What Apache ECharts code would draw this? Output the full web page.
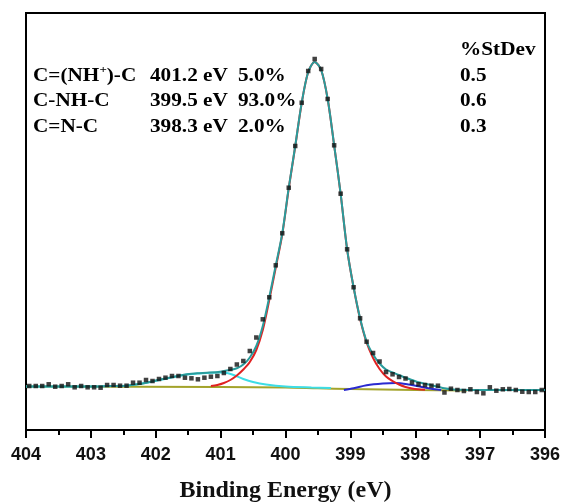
<!DOCTYPE html>
<html>
<head>
<meta charset="utf-8">
<script src="https://cdn.jsdelivr.net/npm/echarts@6/dist/echarts.min.js"></script>
<style>
  html, body { margin: 0; padding: 0; background: #fff; }
  #main { width: 561px; height: 504px; }
</style>
</head>
<body>
<div id="main"></div>
<script>
// binding energy of the measured points (eV)
var energies = [];
for (var i = 0; i < 80; i++) energies.push(+(403.95 - i * 0.1).toFixed(2));

var measured = [
  44, 44, 44, 45.7, 43.3, 44, 45.7, 42.7, 44, 42.7,
  42.7, 42.3, 45, 45, 44.3, 44.3, 47.3, 47.3, 50, 49,
  51, 52.3, 54, 54, 52.3, 51.7, 50.7, 52.3, 53.3, 54,
  57, 61, 65.5, 69, 79, 92.5, 110.7, 132.7, 164.7, 196.7,
  242.3, 284, 327.3, 359, 371, 361, 331, 284.7, 236.3, 180.7,
  142.7, 111.7, 88.3, 77, 68.5, 58, 55.7, 53, 51.5, 47.5,
  45.7, 45, 44.3, 44.3, 37.5, 41.3, 40, 39, 40.7, 38,
  36.7, 42.7, 39.3, 40.7, 41, 40, 38.3, 38, 38, 40
];

// fitted envelope [eV, intensity]
var envelope = [
  [404, 43.5], [403.5, 43.5], [403, 43.5], [402.7, 44], [402.45, 44.3],
  [402.3, 45.5], [402.14, 47.3], [402, 49.5], [401.83, 51.7], [401.68, 53.7],
  [401.52, 55.7], [401.36, 56.8], [401.21, 57.3], [401.01, 58.3], [400.86, 60],
  [400.75, 61.7], [400.65, 65.5], [400.55, 72.5], [400.45, 84], [400.35, 104],
  [400.25, 133], [400.15, 164.7], [400.05, 196.7], [399.95, 242.3], [399.85, 284],
  [399.75, 327.3], [399.65, 358], [399.55, 368], [399.45, 360], [399.35, 331],
  [399.25, 284.7], [399.15, 236.3], [399.05, 180.7], [398.95, 142.7], [398.85, 111.7],
  [398.75, 88.5], [398.65, 75.5], [398.55, 66.5], [398.45, 60.5], [398.35, 57.5],
  [398.25, 55], [398.15, 52.2], [398.05, 50], [397.95, 47.8], [397.85, 46.2],
  [397.75, 44.8], [397.65, 43.3], [397.55, 41.8], [397.45, 40.8], [397.3, 40.2],
  [397, 40], [396.5, 40], [396, 40]
];

// C-NH-C component, 399.5 eV
var peakNH = [
  [401.15, 44], [401.05, 45], [400.95, 47], [400.85, 50], [400.75, 54.5],
  [400.65, 60.5], [400.55, 68], [400.45, 80], [400.35, 100], [400.25, 130],
  [400.15, 162.5], [400.05, 195.5], [399.95, 241.5], [399.85, 283.5], [399.75, 327],
  [399.65, 358], [399.55, 368], [399.45, 360], [399.35, 331], [399.25, 284.5],
  [399.15, 236], [399.05, 180.5], [398.95, 142.5], [398.85, 111], [398.75, 87.5],
  [398.65, 72], [398.55, 61], [398.45, 53.5], [398.35, 49], [398.25, 45.5],
  [398.15, 43], [398.05, 41.5], [397.95, 40.7], [397.85, 40.3]
];

// C=(NH+)-C component, 401.2 eV
var peakNHplus = [
  [404, 43.5], [403, 43.5], [402.7, 44], [402.45, 44.3], [402.14, 47.3],
  [401.83, 51.5], [401.52, 55.5], [401.21, 57], [401.01, 57.5], [400.9, 57],
  [400.8, 55], [400.65, 51], [400.5, 48], [400.3, 45.5], [400, 43.5],
  [399.6, 42.5], [399.3, 42]
];

// C=N-C component, 398.3 eV
var peakN = [
  [399.1, 40], [398.95, 41.7], [398.75, 44.7], [398.5, 46.5], [398.3, 47],
  [398.1, 45.5], [397.9, 43], [397.7, 40.7], [397.6, 40]
];

// background
var background = [
  [404, 43.5], [401, 43], [400, 42.5], [399.5, 41.7], [399, 41],
  [398.5, 40.5], [398, 40], [397.2, 39.5]
];

var rowNames = ['C=(NH{sup|+})-C', 'C-NH-C', 'C=N-C'];
var rowEnergies = ['401.2 eV', '399.5 eV', '398.3 eV'];
var rowPercents = ['5.0%', '93.0%', '2.0%'];
var rowStdDev = ['0.5', '0.6', '0.3'];

var chart = echarts.init(document.getElementById('main'));

var serif = '"Liberation Serif", "Times New Roman", serif';

function label(x, y, text) {
  return {
    type: 'text', x: x, y: y, scaleX: 1.18, z: 10,
    style: {
      text: text, verticalAlign: 'middle',
      fontFamily: serif, fontWeight: 'bold', fontSize: 18, fill: '#000',
      rich: {
        sup: { fontFamily: serif, fontWeight: 'bold', fontSize: 11, fill: '#000', verticalAlign: 'bottom', padding: [0, 0, 11, 0] }
      }
    }
  };
}

var graphics = [label(460, 50, '%StDev')];
var rowY = [76, 101, 127];
for (var r = 0; r < 3; r++) {
  graphics.push(label(33, rowY[r], rowNames[r]));
  graphics.push(label(150, rowY[r], rowEnergies[r]));
  graphics.push(label(238, rowY[r], rowPercents[r]));
  graphics.push(label(460, rowY[r], rowStdDev[r]));
}

function curve(data, color, z) {
  return {
    type: 'line', data: data, showSymbol: false, smooth: 0.3, z: z,
    lineStyle: { color: color, width: 2 }, silent: true, animation: false
  };
}

var option = {
  backgroundColor: '#fff',
  animation: false,
  grid: {
    left: 26, right: 16, top: 13, bottom: 74, outerBoundsMode: 'none',
    show: true, borderColor: '#000', borderWidth: 2
  },
  xAxis: {
    type: 'value', min: 396, max: 404, interval: 1, inverse: true,
    name: 'Binding Energy (eV)', nameLocation: 'middle', nameGap: 49,
    nameTextStyle: { fontFamily: serif, fontWeight: 'bold', fontSize: 24, color: '#111' },
    axisLine: { lineStyle: { color: '#000', width: 2 } },
    axisTick: { inside: false, length: 8, lineStyle: { color: '#000', width: 2 } },
    minorTick: { show: true, splitNumber: 2, length: 5, lineStyle: { color: '#000', width: 2 } },
    splitLine: { show: false },
    axisLabel: { fontFamily: '"Liberation Sans", Arial, sans-serif', fontWeight: 'bold', fontSize: 18, color: '#111', margin: 16 }
  },
  yAxis: { type: 'value', min: 0, max: 417, show: false, splitLine: { show: false } },
  graphic: graphics,
  series: [
    curve(background, '#a3a32a', 1),
    curve(peakNHplus, '#3ddde6', 2),
    curve(peakN, '#2a2ad0', 2),
    curve(peakNH, '#e02222', 3),
    curve(envelope, '#2a9c9c', 4),
    {
      type: 'scatter', symbol: 'rect', symbolSize: 4.5, z: 5, silent: true,
      itemStyle: { color: '#111' },
      data: energies.map(function (e, i) { return [e, measured[i]]; })
    }
  ]
};

chart.setOption(option);
window.onresize = chart.resize;
</script>
</body>
</html>
